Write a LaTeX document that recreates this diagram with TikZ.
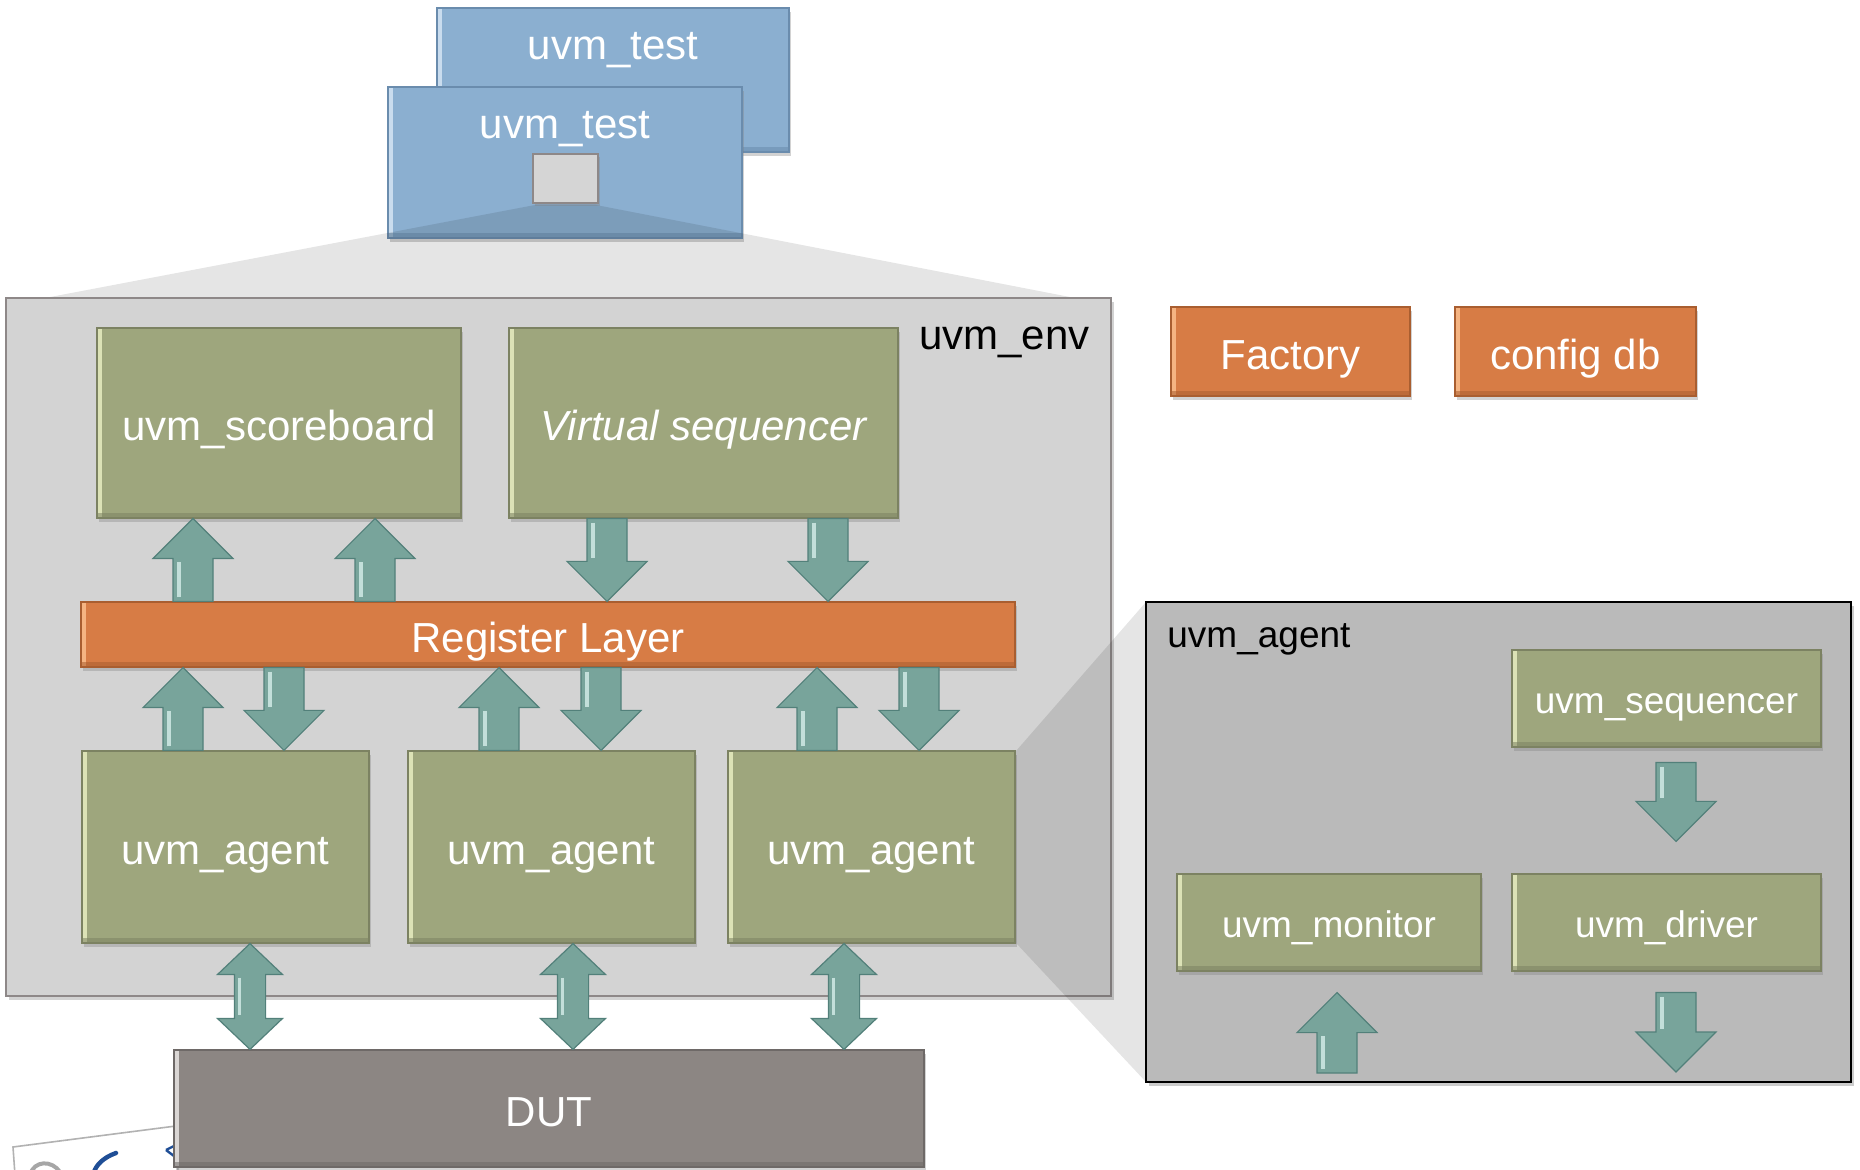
\documentclass[tikz,border=0pt]{standalone}
\usepackage{fontspec}
\setmainfont{Liberation Sans}
\usetikzlibrary{calc,shadows}

% palette
\definecolor{boxgreen}{HTML}{9EA67D}
\definecolor{greenedge}{HTML}{7C8262}
\definecolor{greenhi}{HTML}{DCE2B6}
\definecolor{boxblue}{HTML}{8BAFD0}
\definecolor{blueedge}{HTML}{6A8CAD}
\definecolor{bluehi}{HTML}{C9DCEE}
\definecolor{boxorange}{HTML}{D77C45}
\definecolor{orangeedge}{HTML}{A95E30}
\definecolor{orangehi}{HTML}{F5B482}
\definecolor{dutgray}{HTML}{8C8683}
\definecolor{dutedge}{HTML}{6E6967}
\definecolor{duthi}{HTML}{DAD6D4}
\definecolor{envfill}{HTML}{D3D3D3}
\definecolor{envedge}{HTML}{8E8888}
\definecolor{panelfill}{HTML}{BABABA}
\definecolor{teal}{HTML}{78A49B}
\definecolor{tealedge}{HTML}{52807A}
\definecolor{tealhi}{HTML}{D6EEEA}
\definecolor{logoblue}{HTML}{1F4E96}

\tikzset{
  % rectangle node spanning corners (#1,#2) and (#3,#4), in picture units
  rect/.style n args={4}{rectangle, inner sep=0pt,
    at={({(#1+#3)/2},{(#2+#4)/2})},
    minimum width={(#3-#1)*0.5pt}, minimum height={(#4-#2)*0.5pt}},
  bevelbox/.style n args={3}{fill=#1, draw=#2, line width=0.6pt,
    drop shadow={shadow xshift=1.2pt, shadow yshift=-1.8pt, opacity=0.35},
    path picture={
      \fill[#3] ([shift={(0.6pt,-0.6pt)}]path picture bounding box.north west)
        rectangle ([shift={(2.6pt,0.6pt)}]path picture bounding box.south west);
      \fill[#2, opacity=0.55] ([shift={(0.6pt,0.6pt)}]path picture bounding box.south west)
        rectangle ([shift={(-0.6pt,2.4pt)}]path picture bounding box.south east);
    }},
  bigtext/.style={text=white, font=\fontsize{21}{25}\selectfont, text height=22pt, text depth=4.4pt},
  smalltext/.style={text=white, font=\fontsize{18.5}{22}\selectfont, text height=19pt, text depth=3.9pt},
  gbox/.style={bevelbox={boxgreen}{greenedge}{greenhi}, bigtext},
  gsmall/.style={bevelbox={boxgreen}{greenedge}{greenhi}, smalltext},
  obox/.style={bevelbox={boxorange}{orangeedge}{orangehi}, bigtext},
  tbox/.style={bevelbox={boxblue}{blueedge}{bluehi}},
  dutbox/.style={bevelbox={dutgray}{dutedge}{duthi}, bigtext},
  blockarrow/.style={fill=teal, draw=tealedge, line width=0.6pt, line join=miter},
  arrowshine/.style={draw=tealhi, line width=1.6pt, opacity=0.8},
  zoomcone/.style={fill=black, fill opacity=0.1},
  lbl/.style={text=black, inner sep=0pt},
}

% block arrow geometry: shaft half width, head half width, head length
\newcommand\asw{10pt}
\newcommand\ahw{20pt}
\newcommand\ahl{20pt}
\newcommand\arrowsize[3]{\renewcommand\asw{#1}\renewcommand\ahw{#2}\renewcommand\ahl{#3}}

% single block arrow, vertical at x=#1, from #2 (base) to #3 (tip)
\newcommand\sarrow[3]{%
  \path[blockarrow] let \p3=(#1,0), \p1=(#2), \p2=(#3), \n1={(\y2-\y1)/abs(\y2-\y1)} in
    ({\x3-\asw},{\y1}) -- ({\x3-\asw},{\y2-(\n1)*\ahl}) -- ({\x3-\ahw},{\y2-(\n1)*\ahl})
    -- ({\x3},{\y2}) -- ({\x3+\ahw},{\y2-(\n1)*\ahl}) -- ({\x3+\asw},{\y2-(\n1)*\ahl})
    -- ({\x3+\asw},{\y1}) -- cycle;
  \path[arrowshine] let \p3=(#1,0), \p1=(#2), \p2=(#3), \n1={(\y2-\y1)/abs(\y2-\y1)} in
    ({\x3-\asw+3pt},{\y1+(\n1)*2pt}) -- ({\x3-\asw+3pt},{\y2-(\n1)*\ahl-(\n1)*1.5pt});
}

% double block arrow, vertical at x=#1, between #2 and #3
\newcommand\darrow[3]{%
  \path[blockarrow] let \p3=(#1,0), \p1=(#2), \p2=(#3), \n1={(\y2-\y1)/abs(\y2-\y1)} in
    ({\x3},{\y1}) -- ({\x3+\ahw},{\y1+(\n1)*\ahl}) -- ({\x3+\asw},{\y1+(\n1)*\ahl})
    -- ({\x3+\asw},{\y2-(\n1)*\ahl}) -- ({\x3+\ahw},{\y2-(\n1)*\ahl}) -- ({\x3},{\y2})
    -- ({\x3-\ahw},{\y2-(\n1)*\ahl}) -- ({\x3-\asw},{\y2-(\n1)*\ahl})
    -- ({\x3-\asw},{\y1+(\n1)*\ahl}) -- ({\x3-\ahw},{\y1+(\n1)*\ahl}) -- cycle;
  \path[arrowshine] let \p3=(#1,0), \p1=(#2), \p2=(#3), \n1={(\y2-\y1)/abs(\y2-\y1)} in
    ({\x3-\asw+2.5pt},{\y1+(\n1)*\ahl+(\n1)*1.5pt}) -- ({\x3-\asw+2.5pt},{\y2-(\n1)*\ahl-(\n1)*1.5pt});
}

\begin{document}
\begin{tikzpicture}[x=0.5pt, y=-0.5pt]
\useasboundingbox (0,0) rectangle (1860,1170);
\fill[white] (0,0) rectangle (1860,1170);

% corner card peeking out under the DUT
\fill[white, draw=gray!60, line width=0.8pt, drop shadow={shadow xshift=0.8pt, shadow yshift=-1pt, opacity=0.3}]
  (13,1147) -- (176,1126) -- (178,1175) -- (15,1175) -- cycle;
\draw[logoblue, line width=2.2pt, line cap=round] (116,1153) .. controls (102,1158) and (96,1166) .. (94,1172);
\draw[gray!70, line width=2pt] (30,1175) .. controls (34,1160) and (52,1160) .. (60,1172);
\draw[logoblue, line width=1.2pt] (166,1150) -- (174,1146) (166,1150) -- (174,1156);

% tests
\node[tbox, rect={437}{8}{789}{152}] (testB) {};
\node[bigtext, text height=, text depth=, anchor=base] (testBname) at (613,60) {uvm\_test};
\node[tbox, rect={388}{87}{742}{238}] (testF) {};
\node[bigtext, text height=, text depth=, anchor=base] (testFname) at (565,139) {uvm\_test};
\fill[zoomcone] (535,205) -- (596,205) -- (1075,298) -- (45,298) -- cycle;
\node[fill=envfill!95!white, draw=envedge, line width=0.9pt,
      drop shadow={shadow xshift=1pt, shadow yshift=-1.5pt, opacity=0.35},
      rect={533}{154}{598}{203}] (envref) {};

% environment
\node[fill=envfill, draw=envedge, line width=0.9pt,
      drop shadow={shadow xshift=1.5pt, shadow yshift=-2pt, opacity=0.35},
      rect={6}{298}{1111}{996}] (env) {};
\node[lbl, anchor=base east, font=\fontsize{21}{25}\selectfont] (envname) at (1090,350) {uvm\_env};

% global services
\node[obox, rect={1171}{307}{1410}{396}] (factory) {Factory};
\node[obox, rect={1455}{307}{1696}{396}] (configdb) {config db};

% env contents
\node[gbox, rect={97}{328}{461}{518}] (sb) {uvm\_scoreboard};
\node[gbox, rect={509}{328}{898}{518}, font=\fontsize{21}{25}\selectfont\itshape] (vseq) {Virtual sequencer};
\node[obox, rect={81}{602}{1015}{667}] (reg) {Register Layer};
\node[gbox, rect={82}{751}{369}{943}] (ag1) {uvm\_agent};
\node[gbox, rect={408}{751}{695}{943}] (ag2) {uvm\_agent};
\node[gbox, rect={728}{751}{1015}{943}] (ag3) {uvm\_agent};
\node[dutbox, rect={174}{1050}{924}{1167}] (dut) {DUT};

% zoom wedge from the third agent to its detail view
\fill[zoomcone] (1016,751) -- (1146,602) -- (1146,1082) -- (1016,943) -- cycle;

% env connectors
\arrowsize{10pt}{20pt}{20pt}
\sarrow{193}{reg.north}{sb.south}
\sarrow{375}{reg.north}{sb.south}
\sarrow{607}{vseq.south}{reg.north}
\sarrow{828}{vseq.south}{reg.north}
\sarrow{183}{ag1.north}{reg.south}
\sarrow{284}{reg.south}{ag1.north}
\sarrow{499}{ag2.north}{reg.south}
\sarrow{601}{reg.south}{ag2.north}
\sarrow{817}{ag3.north}{reg.south}
\sarrow{919}{reg.south}{ag3.north}
\arrowsize{7.8pt}{16.3pt}{15.5pt}
\darrow{250}{ag1.south}{dut.north}
\darrow{573}{ag2.south}{dut.north}
\darrow{844}{ag3.south}{dut.north}

% agent detail view
\node[fill=panelfill, draw=black, line width=1.2pt,
      drop shadow={shadow xshift=1.5pt, shadow yshift=-2pt, opacity=0.4},
      rect={1146}{602}{1851}{1082}] (agentview) {};
\node[lbl, anchor=base west, font=\fontsize{18.5}{22}\selectfont] (agentname) at (1167,648) {uvm\_agent};
\node[gsmall, rect={1512}{650}{1821}{747}] (seqr) {uvm\_sequencer};
\node[gsmall, rect={1177}{874}{1481}{971}] (mon) {uvm\_monitor};
\node[gsmall, rect={1512}{874}{1821}{971}] (drv) {uvm\_driver};
\coordinate (monin) at (1337,1073);
\coordinate (drvout) at (1676,1072);
\arrowsize{10pt}{20pt}{20pt}
\sarrow{1676}{$(seqr.south)+(0,15)$}{$(drv.north)+(0,-32)$}
\sarrow{1337}{monin}{$(mon.south)+(0,21)$}
\sarrow{1676}{$(drv.south)+(0,21)$}{drvout}
\end{tikzpicture}
\end{document}
